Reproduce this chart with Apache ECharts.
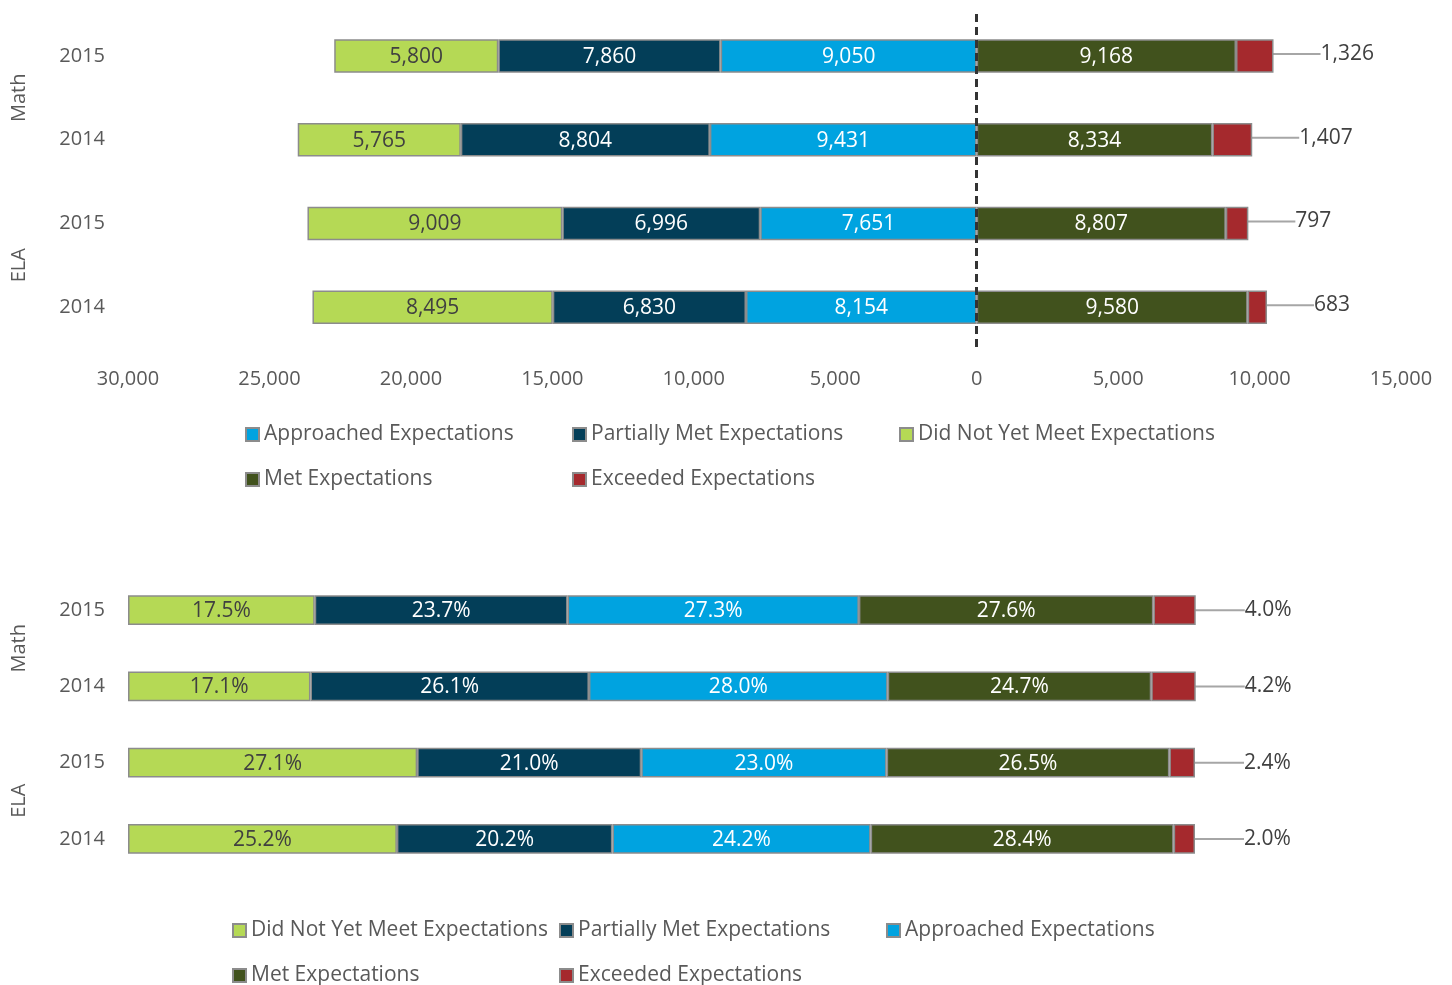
<!DOCTYPE html>
<html>
<head>
<meta charset="utf-8">
<script src="https://cdn.jsdelivr.net/npm/echarts@6/dist/echarts.min.js"></script>
<style>html,body{margin:0;padding:0;background:#fff}#c{width:1452px;height:985px}</style>
</head>
<body>
<div id="c"></div>
<script>
// Categories, top to bottom
const years = ['2015', '2014', '2015', '2014'];
const subjects = ['Math', 'ELA'];
const rowSubjects = ['Math', 'Math', 'ELA', 'ELA'];

// Student counts
const dnymCount = [5800, 5765, 9009, 8495];
const partialCount = [7860, 8804, 6996, 6830];
const approachedCount = [9050, 9431, 7651, 8154];
const metCount = [9168, 8334, 8807, 9580];
const exceededCount = [1326, 1407, 797, 683];

// Percentages
const dnymPct = [17.5, 17.1, 27.1, 25.2];
const partialPct = [23.7, 26.1, 21.0, 20.2];
const approachedPct = [27.3, 28.0, 23.0, 24.2];
const metPct = [27.6, 24.7, 26.5, 28.4];
const exceededPct = [4.0, 4.2, 2.4, 2.0];

// Top value axis ticks
const countMin = -30000, countMax = 15000, countStep = 5000;

const names = {
  dnym: 'Did Not Yet Meet Expectations',
  partial: 'Partially Met Expectations',
  approached: 'Approached Expectations',
  met: 'Met Expectations',
  exceeded: 'Exceeded Expectations'
};
const colors = {
  dnym: '#B5D955',
  partial: '#033E58',
  approached: '#00A3E0',
  met: '#41521D',
  exceeded: '#A5292D'
};

const FONT = 'Open Sans';
const TXT = '#404040';
const AX = '#595959';
const fmtInt = v => Math.abs(v).toLocaleString('en-US');
const catKeys = years.map((y, i) => rowSubjects[i] + '|' + y);
const border = { borderColor: '#8C8C8C', borderWidth: 1.5 };

function catAxis(gridIndex) {
  return {
    type: 'category', gridIndex, inverse: true, data: catKeys,
    axisLine: { show: false }, axisTick: { show: false },
    axisLabel: { formatter: v => v.split('|')[1], color: AX, fontFamily: FONT, fontSize: 20, margin: 23 }
  };
}
function subjAxis(gridIndex) {
  return {
    type: 'category', gridIndex, inverse: true, data: subjects, position: 'left', offset: 91,
    axisLine: { show: false }, axisTick: { show: false },
    axisLabel: { rotate: 90, color: AX, fontFamily: FONT, fontSize: 20, margin: 8 }
  };
}

function topSeries(key, vals, neg, lblColor) {
  return {
    name: names[key], type: 'bar', stack: 'count', xAxisIndex: 0, yAxisIndex: 0,
    barWidth: '40%',
    data: vals.map(v => neg ? -v : v),
    itemStyle: Object.assign({ color: colors[key] }, border),
    label: { show: true, position: 'inside', offset: [0, 1], formatter: p => fmtInt(p.value), color: lblColor, fontFamily: FONT, fontSize: 21 }
  };
}
function botSeries(key, vals, lblColor) {
  return {
    name: names[key], type: 'bar', stack: 'pct', xAxisIndex: 1, yAxisIndex: 2,
    barWidth: '39%',
    data: vals,
    itemStyle: Object.assign({ color: colors[key] }, border),
    label: { show: true, position: 'inside', offset: [0, 1], formatter: p => p.value.toFixed(1) + '%', color: lblColor, fontFamily: FONT, fontSize: 21 }
  };
}

const topExceeded = topSeries('exceeded', exceededCount, false, TXT);
topExceeded.label = { show: true, position: 'right', distance: 5, formatter: p => fmtInt(p.value), color: TXT, fontFamily: FONT, fontSize: 21 };
topExceeded.labelLayout = { dx: 42, dy: -2 };
topExceeded.labelLine = { show: true, lineStyle: { color: '#A6A6A6', width: 2 } };

const topMet = topSeries('met', metCount, false, '#fff');
topMet.markLine = {
  silent: true, symbol: 'none', label: { show: false },
  lineStyle: { color: '#333', type: [8, 5], width: 3 },
  data: [{ xAxis: 0 }]
};

const botExceeded = botSeries('exceeded', exceededPct, TXT);
botExceeded.label = { show: true, position: 'right', distance: 5, formatter: p => p.value.toFixed(1) + '%', color: TXT, fontFamily: FONT, fontSize: 21 };
botExceeded.labelLayout = { dx: 44 };
botExceeded.labelLine = { show: true, lineStyle: { color: '#A6A6A6', width: 2 } };

const legendBase = {
  itemWidth: 13, itemHeight: 13, itemGap: 10, width: 1000, icon: 'rect', padding: 0,
  textStyle: { color: AX, fontFamily: FONT, fontSize: 21, width: 298, lineHeight: 35 }
};

const option = {
  animation: false,
  backgroundColor: '#fff',
  grid: [
    { left: 128, right: 51, top: 14, height: 335 },
    { left: 128, width: 1067, top: 572, height: 305 }
  ],
  xAxis: [
    {
      type: 'value', gridIndex: 0, min: countMin, max: countMax, interval: countStep,
      splitLine: { show: false }, axisLine: { show: false }, axisTick: { show: false },
      axisLabel: { formatter: fmtInt, color: AX, fontFamily: FONT, fontSize: 20, margin: 20 }
    },
    { type: 'value', gridIndex: 1, min: 0, max: 100, show: false }
  ],
  yAxis: [catAxis(0), subjAxis(0), catAxis(1), subjAxis(1)],
  legend: [
    Object.assign({}, legendBase, {
      left: 245, top: 417,
      data: [names.approached, names.partial, names.dnym, names.met, names.exceeded]
    }),
    Object.assign({}, legendBase, {
      left: 232, top: 913,
      data: [names.dnym, names.partial, names.approached, names.met, names.exceeded]
    })
  ],
  series: [
    topSeries('approached', approachedCount, true, '#fff'),
    topSeries('partial', partialCount, true, '#fff'),
    topSeries('dnym', dnymCount, true, TXT),
    topMet,
    topExceeded,
    botSeries('dnym', dnymPct, TXT),
    botSeries('partial', partialPct, '#fff'),
    botSeries('approached', approachedPct, '#fff'),
    botSeries('met', metPct, '#fff'),
    botExceeded
  ]
};

const chart = echarts.init(document.getElementById('c'), null, { renderer: 'canvas' });
chart.setOption(option);
</script>
</body>
</html>
